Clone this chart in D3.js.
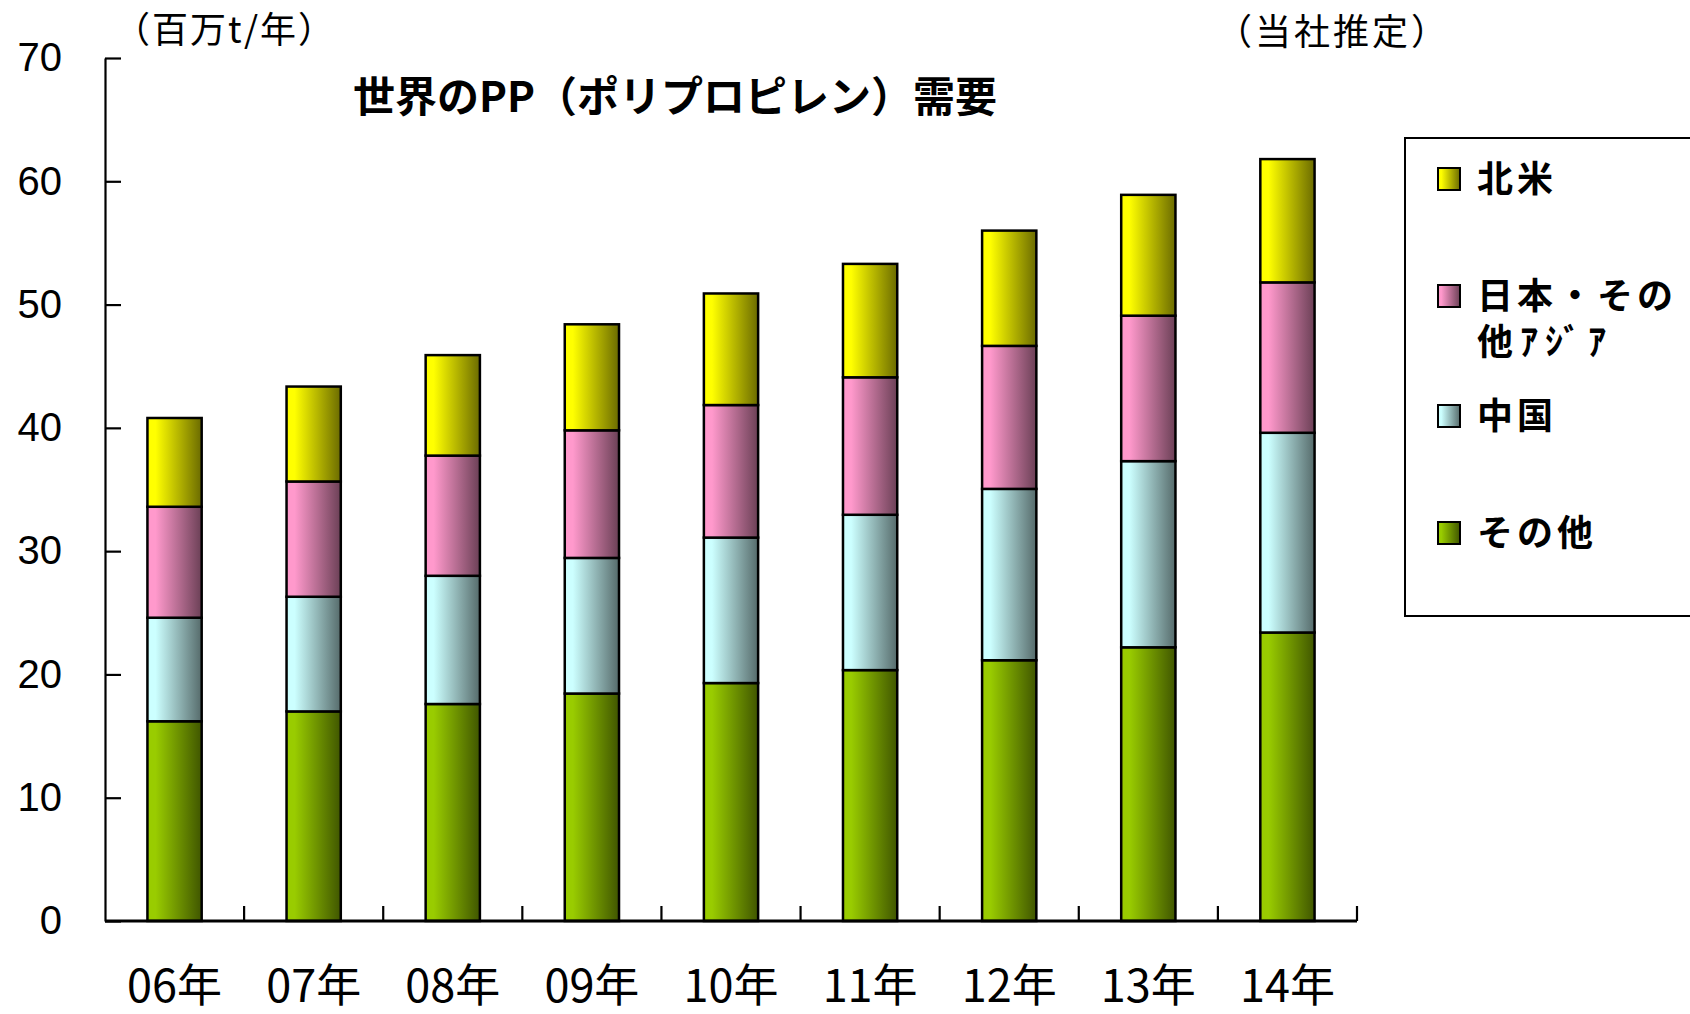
<!DOCTYPE html>
<html>
<head>
<meta charset="utf-8">
<script src="https://cdn.jsdelivr.net/npm/d3@7"></script>
<style>
    body { margin: 0; background: #fff; }
    svg { display: block; }
</style>
</head>
<body>
<svg></svg>
<script>
//Chart data (million t / year)
const years = ["06年", "07年", "08年", "09年", "10年", "11年", "12年", "13年", "14年"];
const other = [16.2, 17.0, 17.6, 18.45, 19.3, 20.35, 21.15, 22.2, 23.4];
const china = [8.4, 9.3, 10.4, 11.0, 11.8, 12.6, 13.9, 15.1, 16.2];
const asia = [9.0, 9.35, 9.75, 10.35, 10.75, 11.15, 11.6, 11.8, 12.2];
const northAmerica = [7.2, 7.7, 8.15, 8.6, 9.05, 9.2, 9.35, 9.8, 10.0];
const yTicks = [0, 10, 20, 30, 40, 50, 60, 70];

//Series from bottom to top, with their base colors
const keys = ["other", "china", "asia", "na"];
const colors = {
    other: "#99cc00",
    china: "#ccffff",
    asia: "#ff99cc",
    na: "#ffff00"
};

const width = 1690;
const height = 1014;
const plotLeft = 105;
const plotRight = 1357;
const plotTop = 58;
const plotBottom = 921;

const jp = "'Noto Sans CJK JP', 'Noto Sans', sans-serif";

const svg = d3.select("svg")
    .attr("width", width)
    .attr("height", height);

const rows = years.map((y, i) => ({
    year: y,
    other: other[i],
    china: china[i],
    asia: asia[i],
    na: northAmerica[i]
}));

const stacked = d3.stack().keys(keys)(rows);

//One band per year for the boundary ticks, a narrower one for the bars
const xCat = d3.scaleBand()
    .domain(years)
    .range([plotLeft, plotRight]);

const xBar = d3.scaleBand()
    .domain(years)
    .range([plotLeft, plotRight])
    .paddingInner(0.61)
    .paddingOuter(0.305);

const y = d3.scaleLinear()
    .domain([0, 70])
    .range([plotBottom, plotTop]);

//Horizontal shading: light on the left, dark on the right
const defs = svg.append("defs");
keys.forEach((k) => {
    const base = d3.rgb(colors[k]);
    const dark = d3.rgb(base.r * 0.42, base.g * 0.42, base.b * 0.42);
    const g = defs.append("linearGradient")
        .attr("id", "grad-" + k)
        .attr("x1", 0).attr("x2", 1)
        .attr("y1", 0).attr("y2", 0);
    g.append("stop").attr("offset", "0%").attr("stop-color", base);
    g.append("stop").attr("offset", "15%").attr("stop-color", base);
    g.append("stop").attr("offset", "100%").attr("stop-color", dark);
});

//Bars
svg.append("g")
    .selectAll("g")
    .data(stacked)
    .enter()
    .append("g")
    .attr("fill", (d) => "url(#grad-" + d.key + ")")
    .selectAll("rect")
    .data((d) => d)
    .enter()
    .append("rect")
    .attr("x", (d) => xBar(d.data.year))
    .attr("width", xBar.bandwidth())
    .attr("y", (d) => y(d[1]))
    .attr("height", (d) => y(d[0]) - y(d[1]))
    .attr("stroke", "#000")
    .attr("stroke-width", 2.5);

//Y axis, ticks pointing inwards
const yAxis = d3.axisLeft(y)
    .tickValues(yTicks)
    .tickSizeInner(-16)
    .tickSizeOuter(0)
    .tickPadding(plotLeft - 62);

const yAxisGroup = svg.append("g")
    .attr("transform", "translate(" + plotLeft + ", 0)")
    .call(yAxis);

yAxisGroup.selectAll("path, line")
    .attr("stroke", "#000")
    .attr("stroke-width", 2.2);

yAxisGroup.selectAll("text")
    .attr("font-family", "'Liberation Sans', Arial, sans-serif")
    .attr("font-size", 40)
    .attr("fill", "#000");

//X axis line and the boundary ticks
const xAxisGroup = svg.append("g");

xAxisGroup.append("line")
    .attr("x1", plotLeft).attr("x2", plotRight)
    .attr("y1", plotBottom).attr("y2", plotBottom)
    .attr("stroke", "#000")
    .attr("stroke-width", 3);

xAxisGroup.selectAll(".xtick")
    .data(years)
    .enter()
    .append("line")
    .attr("class", "xtick")
    .attr("x1", (d) => xCat(d) + xCat.bandwidth())
    .attr("x2", (d) => xCat(d) + xCat.bandwidth())
    .attr("y1", plotBottom)
    .attr("y2", plotBottom - 15)
    .attr("stroke", "#000")
    .attr("stroke-width", 2.2);

xAxisGroup.selectAll(".xlabel")
    .data(years)
    .enter()
    .append("text")
    .attr("class", "xlabel")
    .attr("x", (d) => xCat(d) + xCat.bandwidth() / 2)
    .attr("y", 1002)
    .attr("text-anchor", "middle")
    .attr("font-family", jp)
    .attr("font-size", 45)
    .text((d) => d);

//Unit, note and title
svg.append("text")
    .attr("x", 114)
    .attr("y", 43)
    .attr("font-family", jp)
    .attr("font-size", 36)
    .attr("letter-spacing", 2)
    .text("（百万t/年）");

svg.append("text")
    .attr("x", 1216)
    .attr("y", 45)
    .attr("font-family", jp)
    .attr("font-size", 36)
    .attr("letter-spacing", 3)
    .text("（当社推定）");

svg.append("text")
    .attr("x", 675)
    .attr("y", 112)
    .attr("text-anchor", "middle")
    .attr("font-family", jp)
    .attr("font-weight", "bold")
    .attr("font-size", 42)
    .text("世界のPP（ポリプロピレン）需要");

//Legend
const legendItems = [
    { key: "na", lines: ["北米"], y: 179 },
    { key: "asia", lines: ["日本・その", "他ｱｼﾞｱ"], y: 296 },
    { key: "china", lines: ["中国"], y: 416 },
    { key: "other", lines: ["その他"], y: 533 }
];

const legend = svg.append("g");

legend.append("rect")
    .attr("x", 1405)
    .attr("y", 138)
    .attr("width", 400)
    .attr("height", 478)
    .attr("fill", "#fff")
    .attr("stroke", "#000")
    .attr("stroke-width", 2);

const item = legend.selectAll(".item")
    .data(legendItems)
    .enter()
    .append("g")
    .attr("class", "item")
    .attr("transform", (d) => "translate(1438, " + d.y + ")");

item.append("rect")
    .attr("x", 0)
    .attr("y", -11)
    .attr("width", 22)
    .attr("height", 22)
    .attr("fill", (d) => "url(#grad-" + d.key + ")")
    .attr("stroke", "#000")
    .attr("stroke-width", 2);

item.append("text")
    .attr("font-family", jp)
    .attr("font-weight", "bold")
    .attr("font-size", 36)
    .attr("letter-spacing", 4)
    .selectAll("tspan")
    .data((d) => d.lines)
    .enter()
    .append("tspan")
    .attr("x", 39)
    .attr("y", (d, i) => 13 + i * 46)
    .attr("letter-spacing", (d, i) => i === 1 ? 7 : 4)
    .text((d) => d);
</script>
</body>
</html>
